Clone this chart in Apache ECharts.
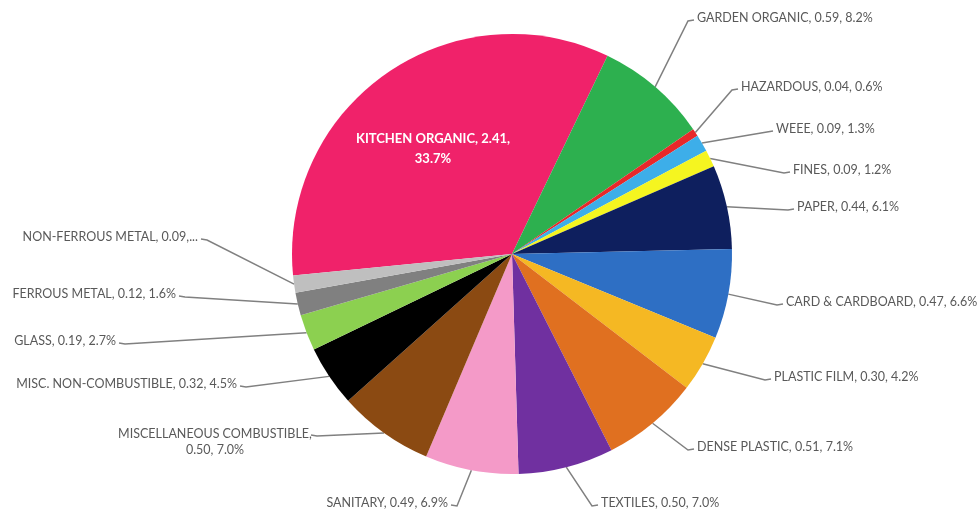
<!DOCTYPE html>
<html>
<head>
<meta charset="utf-8">
<script src="https://cdn.jsdelivr.net/npm/echarts@6/dist/echarts.min.js"></script>
<style>
html,body{margin:0;padding:0;background:#fff;}
#chart{width:977px;height:513px;}
</style>
</head>
<body>
<div id="chart"></div>
<script>
// ---- data ----
var categories = ['KITCHEN ORGANIC','GARDEN ORGANIC','HAZARDOUS','WEEE','FINES','PAPER','CARD & CARDBOARD','PLASTIC FILM','DENSE PLASTIC','TEXTILES','SANITARY','MISCELLANEOUS COMBUSTIBLE','MISC. NON-COMBUSTIBLE','GLASS','FERROUS METAL','NON-FERROUS METAL'];
var values = [2.41,0.59,0.04,0.09,0.09,0.44,0.47,0.30,0.51,0.50,0.49,0.50,0.32,0.19,0.12,0.09];
var percentLabels = ['33.7%','8.2%','0.6%','1.3%','1.2%','6.1%','6.6%','4.2%','7.1%','7.0%','6.9%','7.0%','4.5%','2.7%','1.6%','1.3%'];

// ---- styles / layout ----
var colors = ['#F0226A','#2DB04F','#E8282A','#3DAEE9','#F5F520','#0E1F5E','#2E6FC4','#F5B823','#E07020','#7030A0','#F49AC8','#8B4A12','#000000','#8CD050','#808080','#BFBFBF'];
// [textX, textY, align]
var labelAnchors = [
  [433,149,'center'],
  [697,18,'left'],
  [741,87,'left'],
  [776,129,'left'],
  [793,170,'left'],
  [797,207,'left'],
  [786,302,'left'],
  [774,377,'left'],
  [697,447,'left'],
  [601,503,'left'],
  [448,503,'right'],
  [215,442,'center'],
  [237,384,'right'],
  [116,341,'right'],
  [176,294,'right'],
  [198,237,'right']
];

var font = 'Lato, "Open Sans", sans-serif';

function fmt(p){
  var i = p.dataIndex;
  var v = values[i].toFixed(2);
  if (i === 0) return categories[i] + ', ' + v + ',\n' + percentLabels[i];
  if (categories[i] === 'NON-FERROUS METAL') return categories[i] + ', ' + v + ',...';
  if (categories[i] === 'MISCELLANEOUS COMBUSTIBLE') return categories[i] + ',\n' + v + ', ' + percentLabels[i];
  return categories[i] + ', ' + v + ', ' + percentLabels[i];
}

var data = categories.map(function(c,i){
  var d = {name:c, value:values[i], itemStyle:{color:colors[i]}};
  if (i === 0) {
    d.label = {color:'#ffffff', fontWeight:'bold', fontSize:13, lineHeight:20, align:'center'};
    d.labelLine = {show:false};
  }
  if (c === 'MISCELLANEOUS COMBUSTIBLE') {
    d.label = {align:'center'};
  }
  return d;
});

var chart = echarts.init(document.getElementById('chart'), null, {renderer:'canvas'});
chart.setOption({
  backgroundColor:'#ffffff',
  animation:false,
  series:[{
    type:'pie',
    center:[512,254],
    radius:[0,220],
    startAngle:185.6,
    clockwise:true,
    avoidLabelOverlap:false,
    data:data,
    itemStyle:{borderWidth:0},
    label:{
      show:true,
      position:'outside',
      formatter:fmt,
      color:'#595959',
      fontFamily:font,
      fontSize:12.5,
      lineHeight:16
    },
    labelLine:{show:true, lineStyle:{color:'#808080', width:1.5}},
    labelLayout:function(params){
      var i = params.dataIndex;
      var a = labelAnchors[i];
      var out = {x:a[0], y:a[1], align:a[2], verticalAlign:'middle'};
      if (i > 0 && params.labelLinePoints) {
        var p0 = params.labelLinePoints[0];
        var tx, ty = a[1] + 2;
        if (categories[i] === 'MISCELLANEOUS COMBUSTIBLE') {
          tx = 311; ty = a[1] - 7;
        } else {
          tx = a[0] + (a[2] === 'left' ? -3 : 3);
        }
        var dir = (a[2] === 'left') ? -1 : 1;
        out.labelLinePoints = [p0, [tx + dir * 6, ty + 1], [tx, ty]];
      }
      return out;
    }
  }]
});
</script>
</body>
</html>
